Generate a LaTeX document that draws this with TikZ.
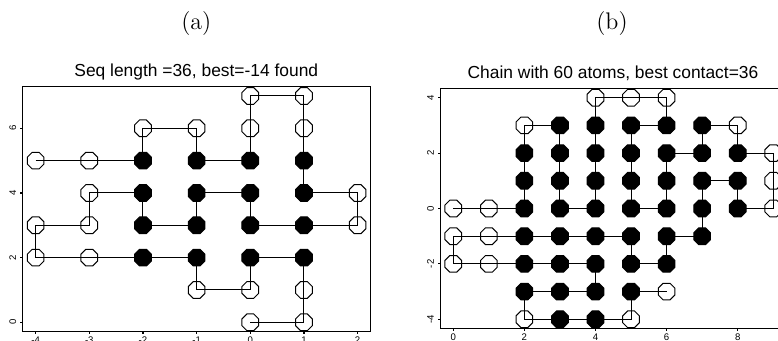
\documentclass[tikz,border=0pt]{standalone}
\usepackage{fontspec}
\newfontfamily\plotfont{Liberation Sans}
\usetikzlibrary{shapes.geometric,backgrounds}
\tikzset{
  mono/.style={regular polygon,regular polygon sides=8,minimum size=9pt,inner sep=0pt,draw,line width=0.5pt},
  hydro/.style={mono,fill=black},
  polar/.style={mono},
  bond/.style={line width=0.5pt},
  frame/.style={line width=0.55pt},
  ticklab/.style={font=\fontsize{4.8}{5}\plotfont,inner sep=0pt},
  plottitle/.style={font=\fontsize{8.7}{10}\plotfont,anchor=base,inner sep=0pt},
  sublab/.style={font=\fontsize{12}{14}\selectfont,anchor=base,inner sep=0pt},
}

\begin{document}
\begin{tikzpicture}[x=0.5pt,y=0.5pt]
  \useasboundingbox (0,0) rectangle (778,341);
  \clip (0,0) rectangle (778,341);

  \node[sublab] (laba) at (196.3,311) {(a)};
  \node[sublab] (labb) at (612,311) {(b)};
  \node[plottitle] (ttla) at (196.3,264.5) {Seq length =36, best=-14 found};
  \node[plottitle] (ttlb) at (613,262.7) {Chain with 60 atoms, best contact=36};

  \begin{scope}[shift={(125.15pt,9.35pt)},x=26.835pt,y=16.165pt]
    \draw[frame] (-4.24,-0.28) rectangle (2.24,7.28);
    \foreach \x in {-4,...,2}{
      \draw[frame] (\x,-0.28) -- ++(0,-1.5pt);
      \node[ticklab,anchor=north] (ax\x) at ([yshift=-2.65pt]\x,-0.28) {\x};
    }
    \foreach \y in {0,2,4,6}{
      \draw[frame] (-4.24,\y) -- ++(-1.5pt,0);
      \node[ticklab,rotate=90] (ay\y) at ([xshift=-5pt]-4.24,\y) {\y};
    }
    \foreach \x/\y/\t [count=\i] in {-4/5/polar,-3/5/polar,-2/5/hydro,-2/6/polar,-1/6/polar,-1/5/hydro,
        0/5/hydro,0/6/polar,0/7/polar,1/7/polar,1/6/polar,1/5/hydro,1/4/hydro,2/4/polar,2/3/polar,
        1/3/hydro,0/3/hydro,0/4/hydro,-1/4/hydro,-1/3/hydro,-2/3/hydro,-2/4/hydro,-3/4/polar,
        -3/3/polar,-4/3/polar,-4/2/polar,-3/2/polar,-2/2/hydro,-1/2/hydro,-1/1/polar,0/1/polar,
        0/2/hydro,1/2/hydro,1/1/polar,1/0/polar,0/0/polar}
      \node[\t] (a\i) at (\x,\y) {};
    \begin{scope}[on background layer]
      \draw[bond] (a1.center) \foreach \i in {2,...,36}{ -- (a\i.center)};
    \end{scope}
  \end{scope}

  \begin{scope}[shift={(226.65pt,66.25pt)},x=17.775pt,y=13.85pt]
    \draw[frame] (-0.36,-4.32) rectangle (9.36,4.32);
    \foreach \x in {0,2,...,8}{
      \draw[frame] (\x,-4.32) -- ++(0,-1.5pt);
      \node[ticklab,anchor=north] (bx\x) at ([yshift=-2.65pt]\x,-4.32) {\x};
    }
    \foreach \y in {-4,-2,...,4}{
      \draw[frame] (-0.36,\y) -- ++(-1.5pt,0);
      \node[ticklab,rotate=90] (by\y) at ([xshift=-5pt]-0.36,\y) {\y};
    }
    \foreach \x/\y/\t [count=\i] in {0/0/polar,1/0/polar,2/0/hydro,2/1/hydro,2/2/hydro,2/3/polar,
        3/3/hydro,3/2/hydro,3/1/hydro,3/0/hydro,4/0/hydro,4/1/hydro,4/2/hydro,4/3/hydro,4/4/polar,
        5/4/polar,6/4/polar,6/3/hydro,5/3/hydro,5/2/hydro,5/1/hydro,5/0/hydro,6/0/hydro,6/1/hydro,
        6/2/hydro,7/2/hydro,7/3/hydro,8/3/polar,8/2/hydro,9/2/polar,9/1/polar,9/0/polar,8/0/hydro,
        8/1/hydro,7/1/hydro,7/0/hydro,7/-1/hydro,6/-1/hydro,6/-2/hydro,5/-2/hydro,5/-1/hydro,
        4/-1/hydro,3/-1/hydro,2/-1/hydro,1/-1/polar,0/-1/polar,0/-2/polar,1/-2/polar,2/-2/hydro,
        3/-2/hydro,4/-2/hydro,4/-3/hydro,3/-3/hydro,2/-3/hydro,2/-4/polar,3/-4/hydro,4/-4/hydro,
        5/-4/polar,5/-3/hydro,6/-3/polar}
      \node[\t] (b\i) at (\x,\y) {};
    \begin{scope}[on background layer]
      \draw[bond] (b1.center) \foreach \i in {2,...,60}{ -- (b\i.center)};
    \end{scope}
  \end{scope}
\end{tikzpicture}
\end{document}
